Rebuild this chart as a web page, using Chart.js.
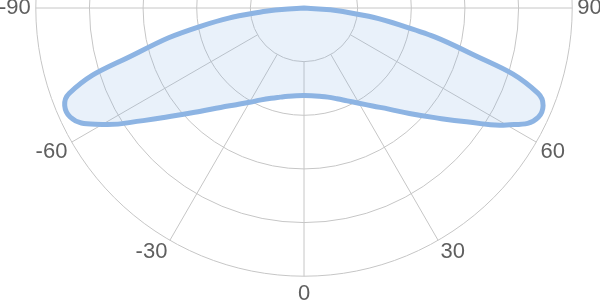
<!DOCTYPE html>
<html>
<head>
<meta charset="utf-8">
<script src="https://cdn.jsdelivr.net/npm/chart.js"></script>
<style>
  html, body { margin: 0; padding: 0; background: #fff; overflow: hidden; }
  body { width: 600px; height: 302px; position: relative; }
  #polar { position: absolute; left: 0; top: 0; }
</style>
</head>
<body>
<canvas id="polar" width="610" height="610"></canvas>
<script>
// angle of each point, degrees (0 = straight down, -90 left, 90 right)
var angles = [90, 85, 80, 75, 70, 65, 60, 55, 50, 45, 40, 35, 30, 25, 20, 15, 10, 5, 0,
              -5, -10, -15, -20, -25, -30, -35, -40, -45, -50, -55, -60, -65, -70, -75, -80, -85, -90];
// radius (outer ring = 50)
var radius = [0, 7.0, 18.1, 31.5, 46.4, 48.2, 43.6, 37.0, 31.8, 27.8, 24.6, 22.3, 20.5, 19.1, 18.0, 17.2, 16.7, 16.4, 16.3,
              16.4, 16.7, 17.2, 17.9, 18.9, 20.3, 22.0, 24.2, 27.2, 31.2, 36.6, 43.4, 48.1, 46.6, 32.0, 19.6, 7.6, 0];
// labelled spokes
var angleTicks = [90, 60, 30, 0, -30, -60, -90];
var ringValues = [10, 20, 30, 40, 50];

var step = 5;
var fullCount = 360 / step;   // the radar needs the whole circle; the upper half sits off screen
var labels = [];
var values = [];
for (var i = 0; i < fullCount; i++) {
  if (i < angles.length) {
    labels.push(angleTicks.indexOf(angles[i]) >= 0 ? String(angles[i]) : '');
    values.push(radius[i]);
  } else {
    labels.push('');
    values.push(0);
  }
}

var gridColor = '#c6c6c6';

// spokes start at the first ring, except the +-90 ones which form the flat top edge
var spokes = {
  id: 'spokes',
  beforeDatasetsDraw: function (chart) {
    var s = chart.scales.r;
    var ctx = chart.ctx;
    var inner = s.getDistanceFromCenterForValue(ringValues[0]);
    var outer = s.getDistanceFromCenterForValue(s.max);
    ctx.save();
    ctx.strokeStyle = gridColor;
    ctx.lineWidth = 1;
    labels.forEach(function (lab, i) {
      if (lab === '') return;
      var a = s.getPointPosition(i, Math.abs(+lab) === 90 ? 0 : inner);
      var b = s.getPointPosition(i, outer);
      ctx.beginPath();
      ctx.moveTo(a.x, a.y);
      ctx.lineTo(b.x, b.y);
      ctx.stroke();
    });
    ctx.restore();
  }
};

var ctx = document.getElementById('polar').getContext('2d');
var chart = new Chart(ctx, {
  type: 'radar',
  data: {
    labels: labels,
    datasets: [{
      data: values,
      borderColor: '#8db4e3',
      backgroundColor: 'rgba(124, 170, 228, 0.17)',
      borderWidth: 5,
      fill: true,
      tension: 0.45,
      pointRadius: 0,
      pointHoverRadius: 0
    }]
  },
  options: {
    responsive: false,
    animation: false,
    events: [],
    plugins: {
      legend: { display: false },
      tooltip: { enabled: false }
    },
    scales: {
      r: {
        min: 0,
        max: 50,
        startAngle: 90,
        ticks: { display: false, stepSize: 10 },
        grid: { color: gridColor, lineWidth: 1, circular: true },
        angleLines: { display: false },
        pointLabels: {
          padding: function (c) { return labels[c.index] === '0' ? 10 : 5; },
          color: '#5f5f5f',
          font: { size: 22, lineHeight: 0.7, family: '"Liberation Sans", Arial, sans-serif' }
        }
      }
    }
  },
  plugins: [spokes]
});

// put the pole at (304, 8) of the page, like the reference
var r = chart.scales.r;
var cv = document.getElementById('polar');
cv.style.left = (304 - r.xCenter) + 'px';
cv.style.top = (8 - r.yCenter) + 'px';
</script>
</body>
</html>
